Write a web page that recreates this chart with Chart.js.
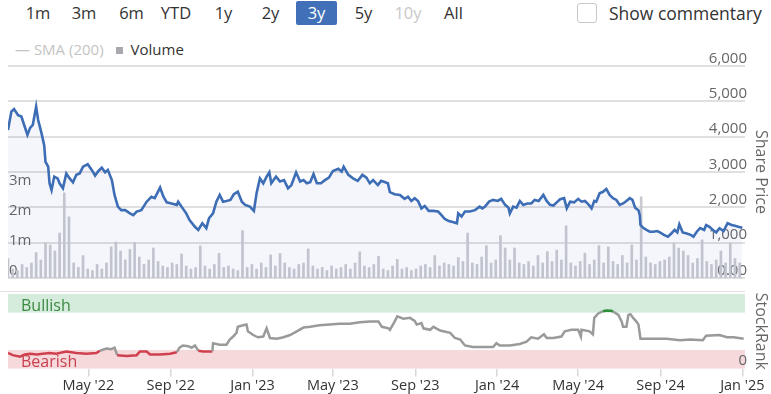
<!DOCTYPE html>
<html><head><meta charset="utf-8">
<script src="https://cdn.jsdelivr.net/npm/chart.js@4/dist/chart.umd.min.js"></script>
<style>
html,body{margin:0;padding:0;background:#fff;overflow:hidden;width:771px;height:394px;font-family:"Open Sans",sans-serif;}
#wrap{position:relative;width:771px;height:394px;}
.btn{position:absolute;top:1px;height:24px;line-height:24px;font-size:16.5px;color:#333;text-align:center;}
.btn.on{background:#4170b9;color:#fff;border-radius:2px;}
.btn.off{color:#c8c8c8;}
#chk{position:absolute;left:577px;top:3px;width:18px;height:18px;border:1px solid #c8c8c8;border-radius:3px;}
#show{position:absolute;left:609px;top:1px;line-height:24px;font-size:17.5px;color:#333;}
#leg{position:absolute;left:15px;top:39px;font-size:15px;line-height:20px;white-space:nowrap;}
#leg .sma{color:#c4c4c4;}
#leg .sq{display:inline-block;width:7px;height:7px;background:#a9a9ad;margin:0 8px 1px 12px;vertical-align:middle;}
#leg .vol{color:#333;}
canvas{position:absolute;left:0;}
#c1{top:40px;}
#c2{top:283px;}
#sep{position:absolute;left:0;top:291px;width:745px;height:1px;background:#e2e2e2;}
.band{position:absolute;left:21px;font-size:16px;line-height:20px;z-index:3;}
</style></head>
<body><div id="wrap">
<div class="btn" style="left:24px;width:28px">1m</div>
<div class="btn" style="left:70px;width:28px">3m</div>
<div class="btn" style="left:117px;width:29px">6m</div>
<div class="btn" style="left:158px;width:36px">YTD</div>
<div class="btn" style="left:211px;width:25px">1y</div>
<div class="btn" style="left:258px;width:25px">2y</div>
<div class="btn on" style="left:296px;width:41px">3y</div>
<div class="btn" style="left:351px;width:25px">5y</div>
<div class="btn off" style="left:394px;width:28px">10y</div>
<div class="btn" style="left:439px;width:29px">All</div>
<div id="chk"></div><div id="show">Show commentary</div>
<div id="leg"><span class="sma">— SMA (200)</span><span class="sq"></span><span class="vol">Volume</span></div>
<canvas id="c1" width="771" height="250"></canvas>
<div id="sep"></div>
<canvas id="c2" width="771" height="113"></canvas>
<div class="band" style="top:295px;color:#3b8a41">Bullish</div>
<div class="band" style="top:351px;color:#c9414f">Bearish</div>
</div>
<script>
// x values are days since 2022-01-01
const startDate = Date.UTC(2022,0,1);
const xMaxDays = 1100;

const priceDays = [0,5,9,15,20,25,29,33,37,42,45,50,54,56,60,62,65,69,74,77,82,87,92,97,102,107,112,119,125,130,135,140,145,149,155,159,164,169,175,182,187,192,199,207,214,219,227,232,237,244,252,254,259,266,271,279,284,290,296,300,306,311,316,321,326,332,337,343,349,354,361,367,371,376,381,386,390,393,400,406,412,418,423,430,436,441,446,451,456,461,467,473,479,485,493,498,501,508,515,522,529,535,540,545,552,557,563,567,570,577,585,592,597,602,607,612,617,622,628,635,642,647,652,658,665,670,672,677,682,689,697,704,708,712,718,724,731,736,742,747,749,754,759,764,769,775,781,786,792,799,804,809,814,819,824,830,834,839,845,851,856,861,866,871,875,878,883,888,893,898,903,908,913,918,923,928,932,936,941,943,944,948,953,958,963,969,973,979,985,990,995,999,1002,1007,1013,1019,1023,1028,1033,1039,1042,1047,1052,1057,1062,1068,1074,1080,1085,1090,1096];
const priceValues = [4190,4710,4780,4610,4570,4280,4050,4250,4330,4850,4470,4100,3760,3290,3150,2680,2490,2870,2820,2680,2540,2960,2820,2710,2920,2960,3150,3220,3060,2900,3030,3120,2990,3060,2770,2350,2020,1920,1920,1830,1780,1880,1920,2160,2300,2260,2560,2300,2140,2110,2070,2160,2020,1830,1640,1450,1360,1550,1410,1690,1830,2160,2350,2160,2180,2210,2370,2440,2160,2070,2020,1900,2400,2820,2680,2870,2990,2680,2870,2730,2770,2540,2630,2990,2730,2770,2680,2710,2940,2680,2680,2770,2840,3030,3090,3010,3150,2920,2820,2750,2920,2840,2680,2770,2630,2750,2710,2680,2430,2370,2350,2240,2300,2180,2260,2180,1970,2040,1900,1900,1880,1780,1670,1610,1580,1550,1830,1740,1880,1880,1920,2020,1970,2020,2160,2210,2180,2240,2070,1990,1830,2020,1990,2180,2070,2110,2110,2210,2180,2350,2180,2070,2050,2140,2230,2260,1970,2160,2140,2240,2160,2180,2090,1970,2180,2160,2400,2440,2520,2350,2260,2210,2070,2110,2180,2260,2210,1990,1920,1780,1500,1420,1360,1310,1310,1330,1290,1220,1170,1260,1360,1290,1520,1290,1260,1220,1170,1310,1410,1360,1500,1450,1360,1290,1410,1330,1550,1500,1480,1450,1420];

// weekly volume samples (millions), one per week from 2022-01-01
const volumeM = [0.65,0.3,0.25,0.45,0.35,0.5,0.85,0.6,1.17,1.1,0.9,1.5,2.84,2.04,0.5,0.35,0.75,0.3,0.25,0.45,0.3,0.5,1.04,1.2,0.9,0.6,0.95,1.18,0.7,0.45,0.6,1.0,0.55,0.4,0.35,0.5,0.45,0.8,0.4,0.3,0.35,1.07,0.4,0.3,0.45,0.82,0.35,0.4,0.3,0.25,1.58,0.35,0.45,0.3,0.5,0.35,0.77,0.4,0.82,0.5,0.35,0.3,0.45,0.5,0.97,0.4,0.3,0.35,0.25,0.4,0.3,0.35,0.45,0.3,0.5,0.87,0.4,0.35,0.45,0.72,0.3,0.25,0.4,0.62,0.3,0.35,0.25,0.3,0.4,0.45,0.35,0.75,0.4,0.5,0.45,0.4,0.68,0.55,1.5,0.5,0.45,0.7,1.08,0.5,0.6,1.41,1.0,0.6,1.0,0.5,0.45,0.55,0.4,0.75,0.5,0.88,0.55,0.93,0.6,1.74,0.5,0.4,0.55,0.83,0.45,0.6,1.08,0.5,1.04,0.55,0.45,0.75,0.5,1.1,0.6,2.71,0.7,0.5,0.45,0.55,0.6,0.7,1.16,1.0,0.9,0.75,0.5,0.65,1.27,0.55,0.45,0.6,0.9,0.5,1.16,0.65,0.5];
const volumeStepDays = 7;

const rankDays = [0,7,18,25,33,43,52,62,72,87,102,117,132,137,147,154,159,163,177,192,197,207,212,227,242,252,256,261,269,274,279,284,291,305,306,316,326,331,336,341,343,351,356,358,366,373,381,386,391,401,411,421,431,441,451,465,480,495,510,525,540,553,558,568,570,577,581,590,600,607,610,617,620,630,635,645,660,667,675,682,694,709,724,729,734,749,764,774,781,791,800,804,814,826,831,841,851,855,856,868,873,875,881,888,893,900,903,911,916,918,923,926,929,933,938,941,944,958,983,1003,1018,1037,1042,1062,1073,1083,1098];
const rankValues = [21,18,16,19,20,19,20,21,20,23,21,20,21,24,27,26,28,18,17,18,23,23,19,19,20,22,28,31,30,28,31,24,23,23,34,32,32,39,43,48,56,58,59,50,45,42,43,54,41,40,42,45,50,55,56,58,59,60,60,62,63,63,56,54,52,63,70,67,68,64,59,61,54,52,56,51,48,41,39,31,29,29,29,34,31,31,33,36,42,40,46,41,41,43,50,52,52,43,52,50,46,68,74,77,78,77.5,76.5,72,63,56,56,72,73,68,63,59,40,40,40,38,39,38,44,45,42,42,40];

const tickDates = ["2022-05-01","2022-09-01","2023-01-01","2023-05-01","2023-09-01","2024-01-01","2024-05-01","2024-09-01","2025-01-01"];
const tickLabels = ["May '22","Sep '22","Jan '23","May '23","Sep '23","Jan '24","May '24","Sep '24","Jan '25"];
const priceTicks = [0,1000,2000,3000,4000,5000,6000];
const volumeTickLabels = ["0","1m","2m","3m"];
const bearishMax = 25, bullishMin = 75;

const dayOf = s => { const [y,m,d] = s.split('-').map(Number); return Math.round((Date.UTC(y,m-1,d)-startDate)/864e5); };
const tickDays = tickDates.map(dayOf);

const FONT = "'Open Sans', sans-serif";
const rightTitle = (text) => ({display:true,text,color:'#666',font:{family:FONT,size:16,lineHeight:1.125},padding:{top:1,bottom:3}});

new Chart(document.getElementById('c1'), {
  type:'line',
  data: {
    datasets: [
      {type:'line', label:'Share Price', yAxisID:'y', order:0,
       data: priceDays.map((d,i)=>({x:d,y:priceValues[i]})),
       borderColor:'#3d6db5', borderWidth:2.6, pointRadius:0, tension:0,
       fill:'origin', backgroundColor:'rgba(60,100,180,0.055)'},
      {type:'bar', label:'Volume', yAxisID:'yv', order:1,
       data: volumeM.map((v,i)=>({x:i*volumeStepDays,y:v})),
       backgroundColor:'#c9cad1', barThickness:2, borderWidth:0}
    ]
  },
  options: {
    responsive:false, animation:false,
    layout:{padding:{left:6,right:0,top:26,bottom:12}},
    plugins:{legend:{display:false},tooltip:{enabled:false}},
    scales:{
      x:{type:'linear',min:0,max:xMaxDays,display:false,offset:false},
      y:{position:'right',min:0,max:6000,
         afterBuildTicks:a=>{a.ticks=priceTicks.map(v=>({value:v}));},
         ticks:{mirror:true,padding:2,labelOffset:-7.5,color:'#666',font:{family:FONT,size:15},
                callback:v=> v===0?'0.00':v.toLocaleString('en-US')},
         grid:{display:true,color:'#e0e0e0',lineWidth:2,drawTicks:false},
         border:{display:false},
         title:rightTitle('Share Price')},
      yv:{position:'left',min:0,max:7.07,
         afterBuildTicks:a=>{a.ticks=volumeTickLabels.map((t,i)=>({value:i}));},
         ticks:{mirror:true,padding:1,labelOffset:-7.5,color:'#666',font:{family:FONT,size:15},
                callback:(v,i)=>volumeTickLabels[i]},
         grid:{display:false,drawTicks:false},border:{display:false}}
    }
  }
});

const bandsPlugin = {
  id:'bands',
  beforeDraw(chart){
    const {ctx, chartArea:ca, scales:{y}} = chart;
    ctx.save();
    ctx.fillStyle='#d5ebdc';
    const t1=y.getPixelForValue(100), b1=y.getPixelForValue(bullishMin);
    ctx.fillRect(ca.left,t1,ca.right-ca.left,b1-t1);
    ctx.fillStyle='#f6d9db';
    const t2=y.getPixelForValue(bearishMax), b2=y.getPixelForValue(0);
    ctx.fillRect(ca.left,t2,ca.right-ca.left,b2-t2);
    ctx.restore();
  }
};

new Chart(document.getElementById('c2'), {
  type:'line',
  data:{datasets:[{label:'StockRank',
    data: rankDays.map((d,i)=>({x:d,y:rankValues[i]})),
    borderWidth:2.5, pointRadius:0, tension:0, borderColor:'#9a9a9a',
    segment:{borderColor:c=>{
      const a=c.p0.parsed.y,b=c.p1.parsed.y;
      if (Math.max(a,b)<=bearishMax) return '#d0414f';
      if (Math.min(a,b)>=76) return '#2f8f3a';
      return '#9a9a9a';
    }}
  }]},
  options:{
    responsive:false, animation:false,
    layout:{padding:{left:8,right:0,top:11,bottom:0}},
    plugins:{legend:{display:false},tooltip:{enabled:false}},
    scales:{
      x:{type:'linear',min:0,max:xMaxDays,
         afterBuildTicks:a=>{a.ticks=tickDays.map(v=>({value:v}));},
         ticks:{autoSkip:false,maxRotation:0,padding:1,color:'#333',font:{family:FONT,size:14.5},
                callback:v=>{const i=tickDays.indexOf(v);return i>=0?tickLabels[i]:'';}},
         grid:{drawOnChartArea:false,drawTicks:true,tickLength:8,color:'#d8d8d8',lineWidth:1.5},
         border:{display:false}},
      y:{position:'right',min:0,max:100,
         afterBuildTicks:a=>{a.ticks=[{value:0}];},
         ticks:{mirror:true,padding:2,labelOffset:-8,color:'#666',font:{family:FONT,size:15},callback:v=>String(v)},
         grid:{display:false,drawTicks:false},border:{display:false},
         title:rightTitle('StockRank')}
    }
  },
  plugins:[bandsPlugin]
});
</script>
</body></html>
